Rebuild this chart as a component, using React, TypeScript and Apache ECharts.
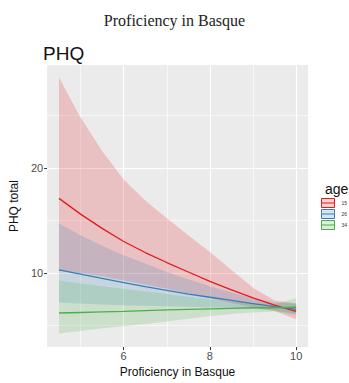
import React, { useEffect, useRef } from "react";
import * as echarts from "echarts";

const xs = [4.5, 5, 5.5, 6, 6.5, 7, 7.5, 8, 8.5, 9, 9.5, 10];
const ageLevels = ["15", "26", "34"];

const redFit = [17.1, 15.6, 14.25, 13.0, 11.95, 11.0, 10.1, 9.2, 8.4, 7.65, 6.95, 6.35];
const redUpper = [28.6, 24.8, 21.6, 18.9, 16.9, 15.2, 13.6, 12.0, 10.3, 8.6, 7.4, 7.1];
const redLower = [10.2, 10.0, 9.7, 9.3, 8.9, 8.5, 8.05, 7.6, 7.15, 6.75, 6.4, 5.6];

const blueFit = [10.3, 9.9, 9.5, 9.1, 8.7, 8.35, 8.0, 7.7, 7.4, 7.1, 6.8, 6.55];
const blueUpper = [14.7, 13.6, 12.6, 11.7, 10.9, 10.1, 9.4, 8.75, 8.15, 7.6, 7.2, 7.1];
const blueLower = [7.2, 7.1, 7.0, 6.95, 6.9, 6.85, 6.8, 6.75, 6.7, 6.6, 6.45, 6.1];

const greenFit = [6.2, 6.25, 6.3, 6.35, 6.42, 6.5, 6.55, 6.6, 6.65, 6.7, 6.7, 6.75];
const greenUpper = [9.3, 9.0, 8.75, 8.5, 8.25, 8.0, 7.75, 7.5, 7.3, 7.15, 7.05, 7.6];
const greenLower = [4.25, 4.5, 4.75, 4.95, 5.15, 5.4, 5.65, 5.9, 6.1, 6.25, 6.35, 6.0];

const xMajor = [6, 8, 10];
const xMinor = [5, 7, 9];
const yMajor = [10, 20];
const yMinor = [5, 15, 25];

const lineColors = ["#E41A1C", "#377EB8", "#4DAF4A"];
const bandColors = ["rgba(228,26,28,0.2)", "rgba(55,126,184,0.2)", "rgba(77,175,74,0.2)"];

export default function App() {
  const ref = useRef<HTMLDivElement>(null);
  useEffect(() => {
    if (!ref.current) return;
    const chart = echarts.init(ref.current, null, { renderer: "svg" });
    const fits = [redFit, blueFit, greenFit];
    const uppers = [redUpper, blueUpper, greenUpper];
    const lowers = [redLower, blueLower, greenLower];

    const series: any[] = [];
    series.push({
      type: "line",
      name: "grid",
      data: [[4.5, redFit[0]]],
      symbol: "none",
      lineStyle: { opacity: 0 },
      silent: true,
      z: 1,
      markLine: {
        silent: true,
        symbol: "none",
        z: 1,
        label: { show: false },
        animation: false,
        data: [
          ...xMinor.map((v) => ({ xAxis: v, lineStyle: { color: "#fff", width: 0.6, type: "solid" } })),
          ...xMajor.map((v) => ({ xAxis: v, lineStyle: { color: "#fff", width: 1.2, type: "solid" } })),
          ...yMinor.map((v) => ({ yAxis: v, lineStyle: { color: "#fff", width: 0.6, type: "solid" } })),
          ...yMajor.map((v) => ({ yAxis: v, lineStyle: { color: "#fff", width: 1.2, type: "solid" } })),
        ],
      },
    });
    for (let i = 0; i < 3; i++) {
      const lo = lowers[i];
      const up = uppers[i];
      series.push({
        type: "custom",
        name: "band" + i,
        data: xs.map((x, j) => [x, lo[j], up[j]]),
        silent: true,
        z: 2,
        clip: true,
        encode: { x: 0, y: [1, 2] },
        renderItem: (params: any, api: any) => {
          if (params.dataIndex !== 0) return null;
          const pts: number[][] = [];
          for (let j = 0; j < xs.length; j++) pts.push(api.coord([xs[j], up[j]]));
          for (let j = xs.length - 1; j >= 0; j--) pts.push(api.coord([xs[j], lo[j]]));
          return {
            type: "polygon",
            shape: { points: pts },
            style: { fill: bandColors[i], stroke: "none" },
          };
        },
      });
    }
    for (let i = 0; i < 3; i++) {
      series.push({
        type: "line",
        name: ageLevels[i],
        data: xs.map((x, j) => [x, fits[i][j]]),
        symbol: "none",
        smooth: false,
        color: lineColors[i],
        lineStyle: { color: lineColors[i], width: 1.3 },
        z: 3,
      });
    }

    chart.setOption({
      animation: false,
      backgroundColor: "#fff",
      title: [
        {
          text: "Proficiency in Basque",
          left: "center",
          top: 7,
          textStyle: { fontFamily: "Liberation Serif", fontWeight: "normal", fontSize: 16, color: "#222" },
        },
        {
          text: "PHQ",
          left: 38,
          top: 39,
          textStyle: { fontFamily: "Liberation Sans", fontWeight: "normal", fontSize: 19, color: "#111" },
        },
        {
          text: "age",
          left: 320,
          top: 177,
          textStyle: { fontFamily: "Liberation Sans", fontWeight: "normal", fontSize: 14, color: "#111" },
        },
      ],
      legend: {
        data: ageLevels.map((n, i) => ({
          name: n,
          icon: "path://M0,0L13,0L13,9L0,9Z M0,4.5L13,4.5",
          itemStyle: { color: bandColors[i], borderColor: lineColors[i], borderWidth: 1 },
        })),
        orient: "vertical",
        left: 321,
        top: 198,
        itemWidth: 13,
        itemHeight: 9,
        itemGap: 1,
        padding: 0,
        selectedMode: false,
        textStyle: { fontFamily: "Liberation Sans", fontSize: 5, color: "#333", padding: [0, 0, 0, 2] },
      },
      grid: {
        left: 41,
        right: 41,
        top: 65,
        bottom: 32,
        show: true,
        backgroundColor: "#EBEBEB",
        borderWidth: 0,
      },
      xAxis: {
        type: "value",
        min: 4.225,
        max: 10.275,
        name: "Proficiency in Basque",
        nameLocation: "middle",
        nameGap: 16,
        nameTextStyle: { fontFamily: "Liberation Sans", fontSize: 12, color: "#111" },
        axisLine: { show: false },
        splitLine: { show: false },
        axisTick: { show: true, customValues: xMajor, length: 3, lineStyle: { color: "#333" } },
        axisLabel: { customValues: xMajor, fontFamily: "Liberation Sans", fontSize: 11, color: "#4D4D4D", margin: 3 },
      },
      yAxis: {
        type: "value",
        min: 2.96,
        max: 29.78,
        name: "PHQ total",
        nameLocation: "middle",
        nameGap: 22,
        nameTextStyle: { fontFamily: "Liberation Sans", fontSize: 12, color: "#111" },
        axisLine: { show: false },
        splitLine: { show: false },
        axisTick: { show: true, customValues: yMajor, length: 3, lineStyle: { color: "#333" } },
        axisLabel: { customValues: yMajor, fontFamily: "Liberation Sans", fontSize: 11, color: "#4D4D4D", margin: 4 },
      },
      series,
    });
    return () => chart.dispose();
  }, []);
  return <div ref={ref} style={{ width: 349, height: 383, position: "absolute", left: 0, top: 0 }} />;
}
